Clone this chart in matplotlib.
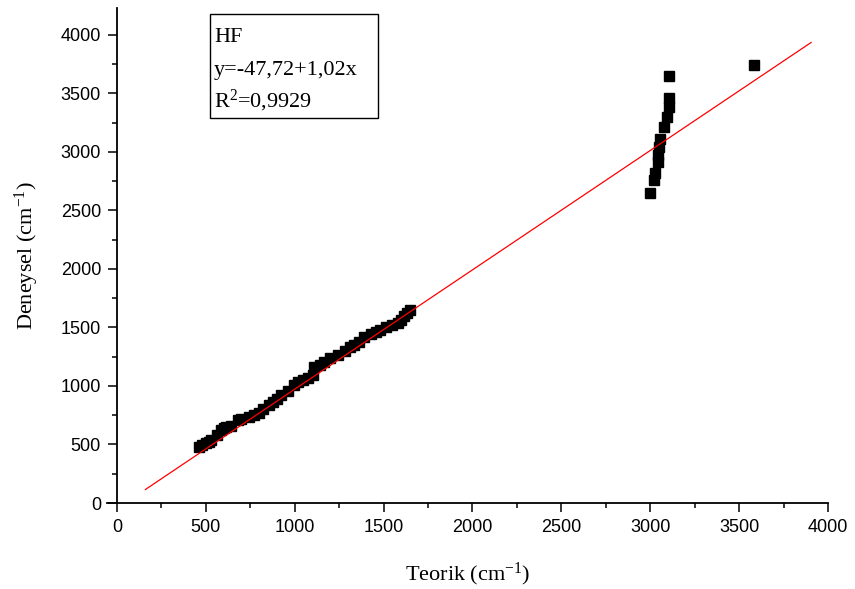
import matplotlib
matplotlib.use("Agg")
import matplotlib.pyplot as plt
import numpy as np
from matplotlib.ticker import MultipleLocator
from matplotlib.patches import Rectangle

plt.rcParams['mathtext.fontset'] = 'custom'
plt.rcParams['mathtext.rm'] = 'Liberation Serif'
plt.rcParams['mathtext.it'] = 'Liberation Serif:italic'

# low-frequency cluster
teorik_low = [461, 480, 500, 515, 529, 560, 585, 600, 613, 640, 680, 700, 743, 770,
              799, 820, 855, 880, 900, 923, 960, 996, 1020, 1046, 1075, 1103, 1108,
              1140, 1165, 1200, 1243, 1280, 1310, 1333, 1360, 1390, 1430, 1457, 1480,
              1513, 1550, 1581, 1600, 1615, 1630, 1648]
deneysel_low = [479, 495, 513, 525, 538, 580, 624, 640, 650, 660, 709, 715, 735, 750,
                769, 800, 838, 860, 890, 923, 960, 1009, 1030, 1051, 1070, 1094, 1162,
                1180, 1205, 1235, 1265, 1300, 1330, 1350, 1380, 1419, 1440, 1462, 1480,
                1504, 1520, 1538, 1560, 1600, 1620, 1650]

# high-frequency cluster
teorik_high = [2999, 3021, 3027, 3044, 3044, 3050, 3055, 3077, 3094, 3105, 3105, 3105, 3584]
deneysel_high = [2650, 2760, 2820, 2915, 2974, 3043, 3111, 3214, 3300, 3385, 3462, 3650, 3744]

# linear fit y = a + b x
fit_a = -47.72
fit_b = 1.02
fit_x = [160, 3905]

teorik = teorik_low + teorik_high
deneysel = deneysel_low + deneysel_high

fig = plt.figure(figsize=(8.55, 5.89), dpi=100)
ax = fig.add_axes([107.2/855, 86/589, 720.8/855, 495/589])

ax.plot(teorik, deneysel, 's', color='black', ms=7.4, mec='black')
fx = np.array(fit_x)
ax.plot(fx, fit_a + fit_b*fx, color='red', lw=0.9)

ax.set_xlim(-55, 4000)
ax.set_ylim(0, 4230)
ax.spines['left'].set_position(('data', 0))
ax.spines['right'].set_visible(False)
ax.spines['top'].set_visible(False)
for s in ['left', 'bottom']:
    ax.spines[s].set_linewidth(1.3)

ax.xaxis.set_major_locator(MultipleLocator(500))
ax.xaxis.set_minor_locator(MultipleLocator(250))
ax.yaxis.set_major_locator(MultipleLocator(500))
ax.yaxis.set_minor_locator(MultipleLocator(250))
ax.tick_params(which='major', direction='out', length=6.5, width=1.1,
               labelsize=13, pad=5)
ax.tick_params(which='minor', direction='out', length=3.5, width=1.1)
for lab in ax.get_xticklabels() + ax.get_yticklabels():
    lab.set_fontfamily('Liberation Sans')

ax.set_xlabel('Teorik (cm$^{\\mathrm{-1}}$)', fontfamily='Liberation Serif',
              fontsize=16, labelpad=18)
ax.set_ylabel('Deneysel (cm$^{\\mathrm{-1}}$)', fontfamily='Liberation Serif',
              fontsize=16, labelpad=14)

ax.add_patch(Rectangle((0.1429, 0.778), 0.376 - 0.1429, 0.988 - 0.778,
                       transform=ax.transAxes, fill=False, lw=1.0,
                       edgecolor='black', clip_on=False))
tf = dict(transform=ax.transAxes, fontfamily='Liberation Serif', fontsize=16,
          va='baseline', ha='left')
ax.text(0.148, 0.932, 'HF', **tf)
ax.text(0.148, 0.8656, 'y=-47,72+1,02x', **tf)
ax.text(0.148, 0.80, 'R$^{\\mathrm{2}}$=0,9929', **tf)

fig.savefig('out.png', dpi=100)
